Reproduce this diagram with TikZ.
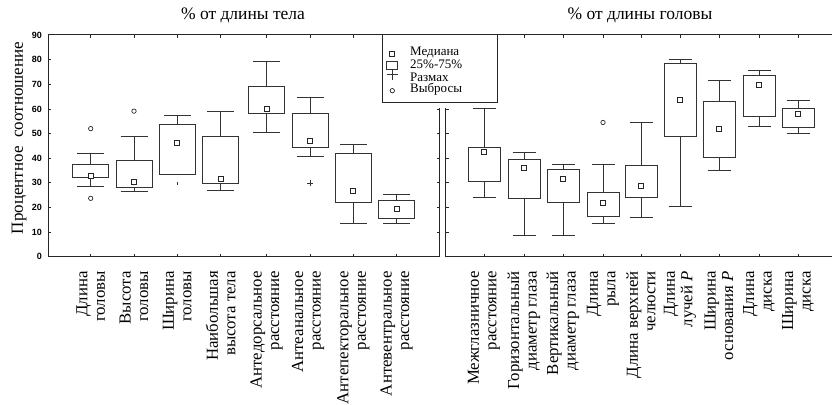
\documentclass[tikz,border=0pt]{standalone}
\usepackage{fontspec}
\setmainfont{Liberation Serif}
\newfontfamily\tickfont{Liberation Sans}
\usepackage{tikz}
\usetikzlibrary{positioning}

\begin{document}
\begin{tikzpicture}[
    x=1pt, y=-1pt,
    frame/.style={line width=1pt, black!85},
    tickmark/.style={line width=0.8pt, black!85},
    whisk/.style={line width=0.9pt, black!80},
    iqr/.style={draw=black!80, line width=0.9pt},
    med/.style={rectangle, draw=black!85, line width=0.7pt, fill=white,
                minimum size=5pt, inner sep=0pt},
    outl/.style={circle, draw=black!85, line width=0.7pt,
                 minimum size=4.4pt, inner sep=0pt},
    varlab/.style={rotate=90, anchor=east, align=right, inner sep=0pt,
                   font=\fontsize{16.8}{17.5}\selectfont},
    ticklab/.style={anchor=east, inner sep=0pt,
                    font=\tickfont\bfseries\fontsize{9}{10}\selectfont},
    heading/.style={font=\fontsize{17.5}{19}\selectfont},
    legtext/.style={anchor=west, inner sep=0pt,
                    font=\fontsize{13}{13}\selectfont}
]
\useasboundingbox (0,0) rectangle (832,404);

% Titles and y label
\node[heading] (ttlbody) at (243,15) {\% от длины тела};
\node[heading] (ttlhead) at (640,15) {\% от длины головы};
\node[rotate=90, font=\fontsize{17}{19}\selectfont] (ylab) at (19,138)
      {Процентное\ \ соотношение};

% Panel frames
\draw[frame] (382,35) -- (48,35) -- (48,256.7) -- (439.5,256.7) -- (439.5,108);
\draw[frame] (445.5,108) -- (445.5,256.7) -- (832,256.7);
\draw[frame] (497,35) -- (832,35);

% Legend
\draw[frame] (382,35) rectangle (497,102);
\node[med] (lgmed) at (392.3,54) {};
\draw[iqr] (386.7,61.5) rectangle (397.7,69.5);
\draw[whisk] (392.3,69.5) -- (392.3,80) (386.7,74.3) -- (397.7,74.3);
\node[outl] (lgout) at (392.3,90.7) {};
\node[legtext] (lg1) at (410,52.5) {Медиана};
\node[legtext] (lg2) at (410,64.5) {25\%-75\%};
\node[legtext] (lg3) at (410,77) {Размах};
\node[legtext] (lg4) at (410,89.5) {Выбросы};

\begin{scope}[shift={(0,256.7)}, y=2.463pt]
% axis ticks
\foreach \v in {0,10,...,90}
  \node[ticklab] (yt\v) at (42,\v) {\v};
\foreach \v in {10,20,...,80}
  \draw[tickmark] (48,\v) -- ++(3,0);
\foreach \v in {10,20,...,60} {
  \draw[tickmark] (439.5,\v) -- ++(-3,0);
  \draw[tickmark] (445.5,\v) -- ++(3,0);
}
\foreach \px in {90.7,134,177.3,220.7,266.7,310,353.3} {
  \draw[tickmark] (\px,90) -- ++(0,-1.2);
  \draw[tickmark] (\px,0) -- ++(0,1.2);
}
\draw[tickmark] (396.7,0) -- ++(0,1.2);
\foreach \px in {524,563,603,641,680,719,759,798}
  \draw[tickmark] (\px,90) -- ++(0,-1.2);
\foreach \px in {484,524,563,603,641,680,719,759,798}
  \draw[tickmark] (\px,0) -- ++(0,1.2);

% % of body length
\foreach \px/\wlo/\qlo/\md/\qhi/\whi [count=\i] in
    {90.7/28.7/32.2/33/37.5/42, 134/26.4/28/30.2/39.2/48.7,
     220.7/27/29.8/31.5/48.7/58.9, 266.7/50.5/58.2/60.2/69.3/79.2,
     310/40.6/44.2/47/58.2/64.5, 353.3/13.3/21.9/26.8/42/45.7,
     396.7/13.3/15.6/19.6/23/25.4} {
  \draw[whisk] (\px,\wlo) -- (\px,\qlo) (\px,\qhi) -- (\px,\whi)
    (\px-13.5,\wlo) -- (\px+13.5,\wlo) (\px-13.5,\whi) -- (\px+13.5,\whi);
  \draw[iqr] (\px-18,\qlo) rectangle (\px+18,\qhi);
  \node[med] (bmed\i) at (\px,\md) {};
}
\draw[whisk] (177.3,53.5) -- (177.3,57.5) (163.8,57.5) -- (190.8,57.5)
  (177.3,30.2) -- (177.3,29.2);
\draw[iqr] (159.3,33.2) rectangle (195.3,53.5);
\node[med] (bmed3x) at (177.3,46.4) {};
\node[outl] (bout1) at (90.7,52) {};
\node[outl] (bout2) at (90.7,23.7) {};
\node[outl] (bout3) at (134,59.1) {};
\draw[whisk, line width=0.7pt] (310,29.9) +(-3pt,0) -- +(3pt,0)
  +(0,-3pt) -- +(0,3pt);

% % of head length
\foreach \px/\wlo/\qlo/\md/\qhi/\whi [count=\i] in
    {484/24.1/30.4/42.5/44.4/60, 524/8.8/23.5/36.1/39.6/42.4,
     563/8.8/21.9/31.8/35.6/37.6, 603/13.5/16.5/21.9/26.1/37.6,
     641/16/24.1/28.7/36.9/54.4, 680/20.6/48.7/63.6/78.5/80.2,
     719/34.9/40.3/52/63.1/71.7, 759/52.8/56.8/69.7/73.5/75.5,
     798/50/52.4/57.8/60.2/63.3} {
  \draw[whisk] (\px,\wlo) -- (\px,\qlo) (\px,\qhi) -- (\px,\whi)
    (\px-11.5,\wlo) -- (\px+11.5,\wlo) (\px-11.5,\whi) -- (\px+11.5,\whi);
  \draw[iqr] (\px-16,\qlo) rectangle (\px+16,\qhi);
  \node[med] (hmed\i) at (\px,\md) {};
}
\node[outl] (hout4) at (603,54.5) {};
\end{scope}

% Variable names
\node[varlab] (bl1) at (90.7,271) {Длина\\головы};
\node[varlab] (bl2) at (134,271) {Высота\\головы};
\node[varlab] (bl3) at (177.3,271) {Ширина\\головы};
\node[varlab] (bl4) at (220.7,271) {Наибольшая\\высота тела};
\node[varlab] (bl5) at (266.7,271) {Антедорсальное\\расстояние};
\node[varlab] (bl6) at (308,271) {Антеанальное\\расстояние};
\node[varlab] (bl7) at (353.3,271) {Антепекторальное\\расстояние};
\node[varlab] (bl8) at (396.7,271) {Антевентральное\\расстояние};
\node[varlab] (hl1) at (484,271) {Межглазничное\\расстояние};
\node[varlab] (hl2) at (524,271) {Горизонтальный\\диаметр глаза};
\node[varlab] (hl3) at (563,271) {Вертикальный\\диаметр глаза};
\node[varlab] (hl4) at (603,271) {Длина\\рыла};
\node[varlab] (hl5) at (641,271) {Длина верхней\\челюсти};
\node[varlab] (hl6) at (680,271) {Длина\\лучей \textit{P}};
\node[varlab] (hl7) at (719,271) {Ширина\\основания \textit{P}};
\node[varlab] (hl8) at (759,271) {Длина\\диска};
\node[varlab] (hl9) at (798,271) {Ширина\\диска};

\end{tikzpicture}
\end{document}
